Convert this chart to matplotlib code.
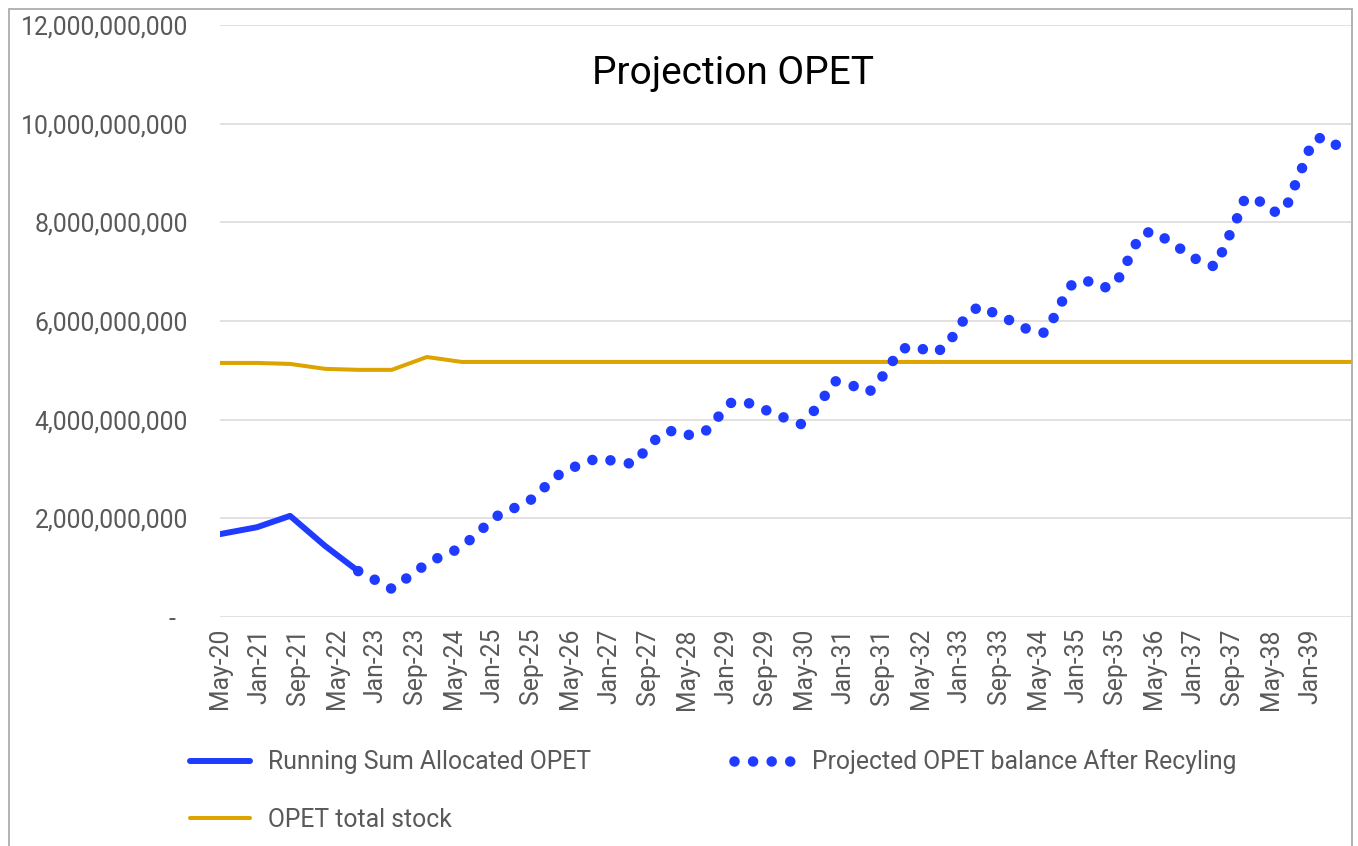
import numpy as np
import matplotlib.pyplot as plt
from matplotlib.patches import Rectangle
from matplotlib.ticker import FuncFormatter, MultipleLocator

# x = months counted from May-2020, y = billions
allocated_months = [0, 7.6, 14.4, 21.6, 28.4]
allocated_bn = [1.68, 1.82, 2.05, 1.44, 0.93]

projected_months = [28.4, 31.9, 35.3, 38.4, 41.5, 44.8, 48.5, 51.6, 54.5, 57.5,
                    61.0, 64.5, 67.2, 70.3, 73.8, 77.5, 81.2, 84.9, 87.5, 90.2,
                    93.3, 97.0, 100.1, 102.5, 105.2, 108.5, 112.0, 115.7, 119.4, 121.9,
                    124.1, 126.4, 129.7, 133.4, 135.6, 137.7, 139.9, 142.8, 146.5, 149.2,
                    151.3, 153.5, 156.0, 159.5, 163.0, 166.5, 169.5, 171.4, 173.2, 175.1,
                    177.8, 181.3, 183.9, 185.8, 187.4, 189.3, 191.7, 195.0, 198.3, 201.4,
                    204.5, 206.1, 207.6, 209.2, 210.6, 213.3, 216.4, 218.9, 220.3, 221.8,
                    223.2, 224.6, 226.9, 230.2]
projected_bn = [0.93, 0.75, 0.57, 0.79, 1.01, 1.20, 1.36, 1.58, 1.84, 2.09,
                2.23, 2.41, 2.68, 2.94, 3.08, 3.22, 3.16, 3.10, 3.39, 3.67,
                3.79, 3.67, 3.79, 4.07, 4.36, 4.34, 4.20, 4.05, 3.91, 4.16,
                4.46, 4.78, 4.70, 4.56, 4.80, 5.11, 5.43, 5.49, 5.35, 5.47,
                5.80, 6.12, 6.30, 6.14, 5.98, 5.80, 5.76, 6.08, 6.43, 6.75,
                6.83, 6.67, 6.73, 7.07, 7.42, 7.76, 7.82, 7.62, 7.40, 7.20,
                7.10, 7.44, 7.78, 8.13, 8.49, 8.45, 8.21, 8.25, 8.62, 8.96,
                9.32, 9.67, 9.73, 9.51]

stock_months = [0, 7.6, 14.4, 21.6, 28.4, 35.3, 42.5, 49.7, 232.6]
stock_bn = [5.15, 5.15, 5.13, 5.03, 5.01, 5.01, 5.27, 5.17, 5.17]

month_abbr = ['Jan', 'Feb', 'Mar', 'Apr', 'May', 'Jun',
              'Jul', 'Aug', 'Sep', 'Oct', 'Nov', 'Dec']
start_year, start_month = 2020, 4  # May-20 (0-based month)

BLUE = '#1F3BFF'
GOLD = '#DDA400'
GREY_TXT = '#595959'
FS = 17.8

plt.rcParams['font.family'] = ['Roboto', 'DejaVu Sans']

fig = plt.figure(figsize=(13.58, 8.46), dpi=100)
ax = fig.add_axes([220 / 1358, 1 - 617 / 846, (1352 - 220) / 1358, (617 - 25) / 846])

ax.plot(allocated_months, np.array(allocated_bn) * 1e9, color=BLUE, lw=4.3,
        solid_capstyle='round', solid_joinstyle='round',
        label='Running Sum Allocated OPET', zorder=3)
ax.plot(projected_months, np.array(projected_bn) * 1e9, color=BLUE, lw=7.6,
        linestyle=(0, (0.001, 1.76)), dash_capstyle='round',
        label='Projected OPET balance After Recyling', zorder=3)
ax.plot(stock_months, np.array(stock_bn) * 1e9, color=GOLD, lw=2.9,
        solid_capstyle='round', label='OPET total stock', zorder=2)

ax.set_ylim(0, 12e9)
ax.set_xlim(0, stock_months[-1])
ax.yaxis.set_major_locator(MultipleLocator(2e9))
ax.yaxis.set_major_formatter(FuncFormatter(
    lambda v, p: '-  ' if v == 0 else f'{v:,.0f}'))

tick_pos = np.arange(0, 225, 8)
ax.set_xticks(tick_pos)
ax.set_xticklabels([f"{month_abbr[(start_month + m) % 12]}-{(start_year + (start_month + m) // 12) % 100:02d}"
                    for m in tick_pos], rotation=90)

ax.grid(axis='y', color='#D9D9D9', lw=1.1)
ax.set_axisbelow(True)
for s in ax.spines.values():
    s.set_visible(False)
ax.tick_params(axis='y', length=0, pad=23, labelsize=FS, labelcolor=GREY_TXT)
ax.tick_params(axis='x', length=0, pad=8, labelsize=FS, labelcolor=GREY_TXT)

fig.text(733 / 1358, 1 - 73 / 846, 'Projection OPET', ha='center', va='center',
         fontsize=28, color='black')

handles, labels = ax.get_legend_handles_labels()
order = [0, 2, 1]
fig.legend([handles[i] for i in order], [labels[i] for i in order],
           loc='upper left', bbox_to_anchor=(178 / 1358, 1 - 737 / 846),
           ncol=2, frameon=False, fontsize=FS, labelcolor=GREY_TXT,
           handlelength=2.4, handletextpad=0.73, columnspacing=5.8,
           labelspacing=1.35, borderpad=0)

fig.patches.append(Rectangle((9 / 1358, -0.05), (1352 - 9) / 1358, 1.05 - 9 / 846,
                             transform=fig.transFigure, fill=False,
                             edgecolor='#ADADAD', lw=1.3))

fig.savefig('out.png', dpi=100)
